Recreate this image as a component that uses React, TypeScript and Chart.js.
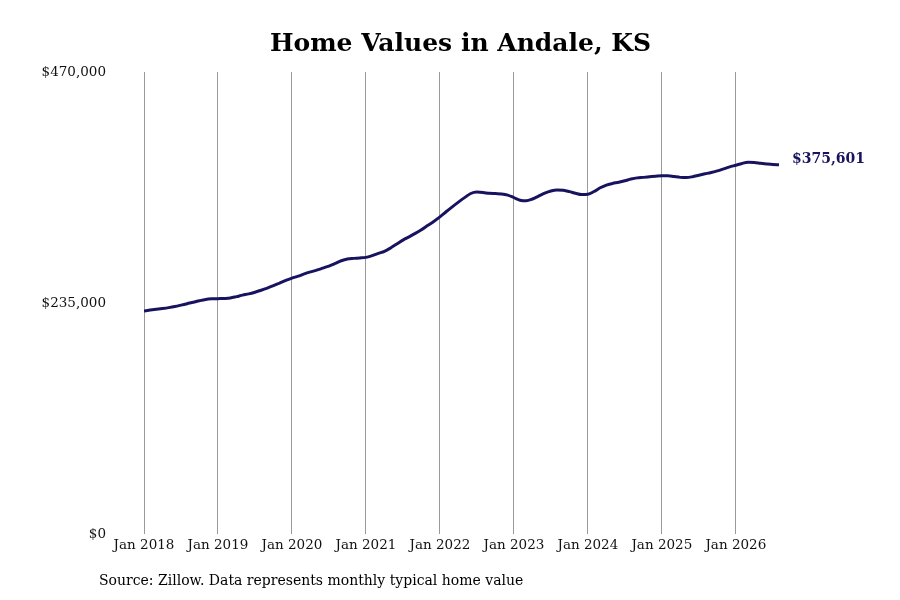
import { useEffect, useRef } from 'react';
import { Chart, registerables } from 'chart.js';
Chart.register(...registerables);

// monthly typical home value, Jan 2018 .. Aug 2026 (in thousands)
const startYear = 2018;
const values2018 = [226.9, 227.8, 228.6, 229.4, 230.3, 231.4, 232.8, 234.3, 235.7, 237.3, 238.6, 239.2];
const values2019 = [239.4, 239.6, 240.1, 241.5, 243.0, 244.3, 246.0, 248.0, 250.2, 252.6, 255.3, 258.0];
const values2020 = [260.3, 262.3, 264.6, 266.6, 268.4, 270.5, 272.6, 275.2, 278.0, 279.8, 280.4, 280.8];
const values2021 = [281.4, 283.2, 285.5, 287.6, 291.0, 295.0, 299.0, 302.3, 305.8, 309.6, 313.8, 318.0];
const values2022 = [322.6, 327.8, 332.8, 337.6, 342.2, 346.4, 347.8, 347.4, 346.6, 346.3, 346.0, 344.8];
const values2023 = [342.2, 339.6, 339.0, 340.8, 343.8, 346.8, 349.0, 350.0, 349.6, 348.3, 346.6, 345.3];
const values2024 = [345.6, 348.4, 352.2, 355.0, 356.6, 357.8, 359.3, 361.1, 362.3, 362.8, 363.4, 364.0];
const values2025 = [364.5, 364.5, 363.6, 362.8, 362.6, 363.5, 365.0, 366.4, 367.8, 369.4, 371.4, 373.5];
const values2026 = [375.2, 377.0, 378.1, 378.0, 377.2, 376.5, 375.9, 375.601];

const yTicks = [0, 235000, 470000];
const janTicks = [0, 12, 24, 36, 48, 60, 72, 84, 96];

const homeValues = [
  ...values2018, ...values2019, ...values2020, ...values2021, ...values2022,
  ...values2023, ...values2024, ...values2025, ...values2026,
].map(v => Math.round(v * 1000));

const NAVY = '#17135f';
const FONT = "'DejaVu Serif', serif";
const fmt = (v: number) => '$' + v.toLocaleString('en-US');

// bold value label just right of the last point
const endLabel = {
  id: 'endLabel',
  afterDatasetsDraw(chart: any) {
    const pts = chart.getDatasetMeta(0).data;
    const last = pts[pts.length - 1];
    const ctx = chart.ctx;
    ctx.save();
    ctx.font = `bold 14px ${FONT}`;
    ctx.fillStyle = NAVY;
    ctx.textAlign = 'left';
    ctx.textBaseline = 'middle';
    ctx.fillText(fmt(homeValues[homeValues.length - 1]), last.x + 13, last.y - 5);
    ctx.restore();
  },
};

export default function App() {
  const canvasRef = useRef<HTMLCanvasElement>(null);

  useEffect(() => {
    document.body.style.margin = '0';
    const chart = new Chart(canvasRef.current!, {
      type: 'line',
      data: {
        datasets: [{
          data: homeValues.map((v, i) => ({ x: i, y: v })),
          borderColor: NAVY, borderWidth: 3,
          pointRadius: 0, tension: 0.4, cubicInterpolationMode: 'monotone',
        }],
      },
      options: {
        animation: false, responsive: true, maintainAspectRatio: false,
        layout: { padding: { left: 42, right: 121, top: 72, bottom: 36 } },
        plugins: { legend: { display: false }, tooltip: { enabled: false } },
        scales: {
          x: {
            type: 'linear', min: 0, max: homeValues.length - 1,
            afterBuildTicks: (s: any) => { s.ticks = janTicks.map(v => ({ value: v })); },
            afterFit: (s: any) => { s.height = 30; },
            border: { display: false },
            grid: { color: '#9a9a9a', lineWidth: 1, drawTicks: false },
            ticks: {
              padding: 3, color: '#111', font: { family: FONT, size: 13.5 },
              maxRotation: 0, autoSkip: false,
              callback: (v: any) => 'Jan ' + (startYear + Math.round(v / 12)),
            },
          },
          y: {
            min: 0, max: 470000,
            afterBuildTicks: (s: any) => { s.ticks = yTicks.map(v => ({ value: v })); },
            afterFit: (s: any) => { s.width = 102; },
            border: { display: false },
            grid: { display: false, drawTicks: false },
            ticks: {
              padding: 38, color: '#111', font: { family: FONT, size: 13.5 },
              callback: (v: any) => fmt(Number(v)),
            },
          },
        },
      },
      plugins: [endLabel],
    });
    return () => { chart.destroy(); };
  }, []);

  return (
    <div style={{ position: 'relative', width: 900, height: 600, background: '#fff', fontFamily: FONT }}>
      <div style={{ position: 'absolute', left: 0, width: 921, top: 28, textAlign: 'center', fontSize: 25, fontWeight: 'bold', color: '#000' }}>
        Home Values in Andale, KS
      </div>
      <canvas ref={canvasRef} />
      <div style={{ position: 'absolute', left: 99, top: 572, fontSize: 14, color: '#000' }}>
        Source: Zillow. Data represents monthly typical home value
      </div>
    </div>
  );
}
